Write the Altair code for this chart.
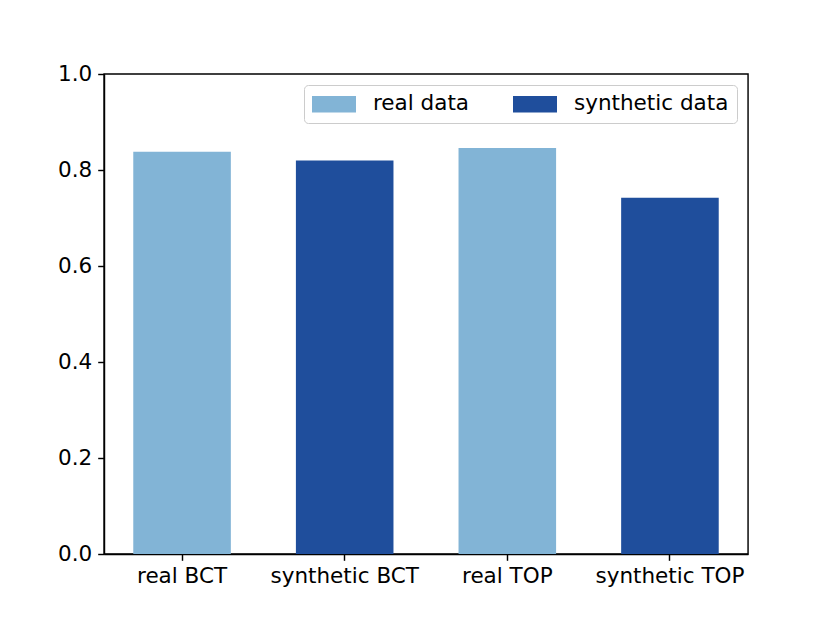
import altair as alt
import pandas as pd

categories = ["real BCT", "synthetic BCT", "real TOP", "synthetic TOP"]
values = [0.838, 0.820, 0.846, 0.742]
series = ["real data", "synthetic data", "real data", "synthetic data"]
series_names = ["real data", "synthetic data"]
series_colors = ["#82B4D6", "#1F4E9C"]
y_ticks = [0.0, 0.2, 0.4, 0.6, 0.8, 1.0]

df = pd.DataFrame({"category": categories, "value": values, "series": series})

FONT = "DejaVu Sans"
FS = 21.5

chart = (
    alt.Chart(df)
    .mark_bar()
    .encode(
        x=alt.X(
            "category:N",
            sort=categories,
            title=None,
            scale=alt.Scale(paddingInner=0.4, paddingOuter=0.18),
            axis=alt.Axis(
                labelAngle=0,
                labelFont=FONT,
                labelFontSize=FS,
                labelColor="black",
                tickColor="black",
                tickSize=6.3,
                tickWidth=1.44,
                domainColor="black",
                domainWidth=1.44,
                labelPadding=5,
                grid=False,
            ),
        ),
        y=alt.Y(
            "value:Q",
            title=None,
            scale=alt.Scale(domain=[0, 1], nice=False, zero=True),
            axis=alt.Axis(
                values=y_ticks,
                format=".1f",
                labelFont=FONT,
                labelFontSize=FS,
                labelColor="black",
                tickColor="black",
                tickSize=6.3,
                tickWidth=1.44,
                domainColor="black",
                domainWidth=1.44,
                labelPadding=6,
                grid=False,
            ),
        ),
        color=alt.Color(
            "series:N",
            scale=alt.Scale(domain=series_names, range=series_colors),
            legend=alt.Legend(
                title=None,
                orient="top-right",
                offset=11,
                direction="horizontal",
                columns=2,
                symbolType="M-1,-0.75H3V0.75H-1Z",
                symbolSize=484,
                symbolStrokeWidth=0,
                symbolOpacity=1,
                labelFont=FONT,
                labelFontSize=FS,
                labelColor="black",
                labelOffset=39,
                columnPadding=43,
                padding=8,
                fillColor="white",
                strokeColor="#cccccc",
                cornerRadius=4,
            ),
        ),
    )
    .properties(
        width=644,
        height=480,
        padding={"left": 96, "top": 66, "right": 74, "bottom": 61},
        autosize="none",
        background="white",
    )
    .configure_view(stroke="black", strokeWidth=1.44)
)

chart.save("out.html", embed_options={"renderer": "svg", "actions": False})
